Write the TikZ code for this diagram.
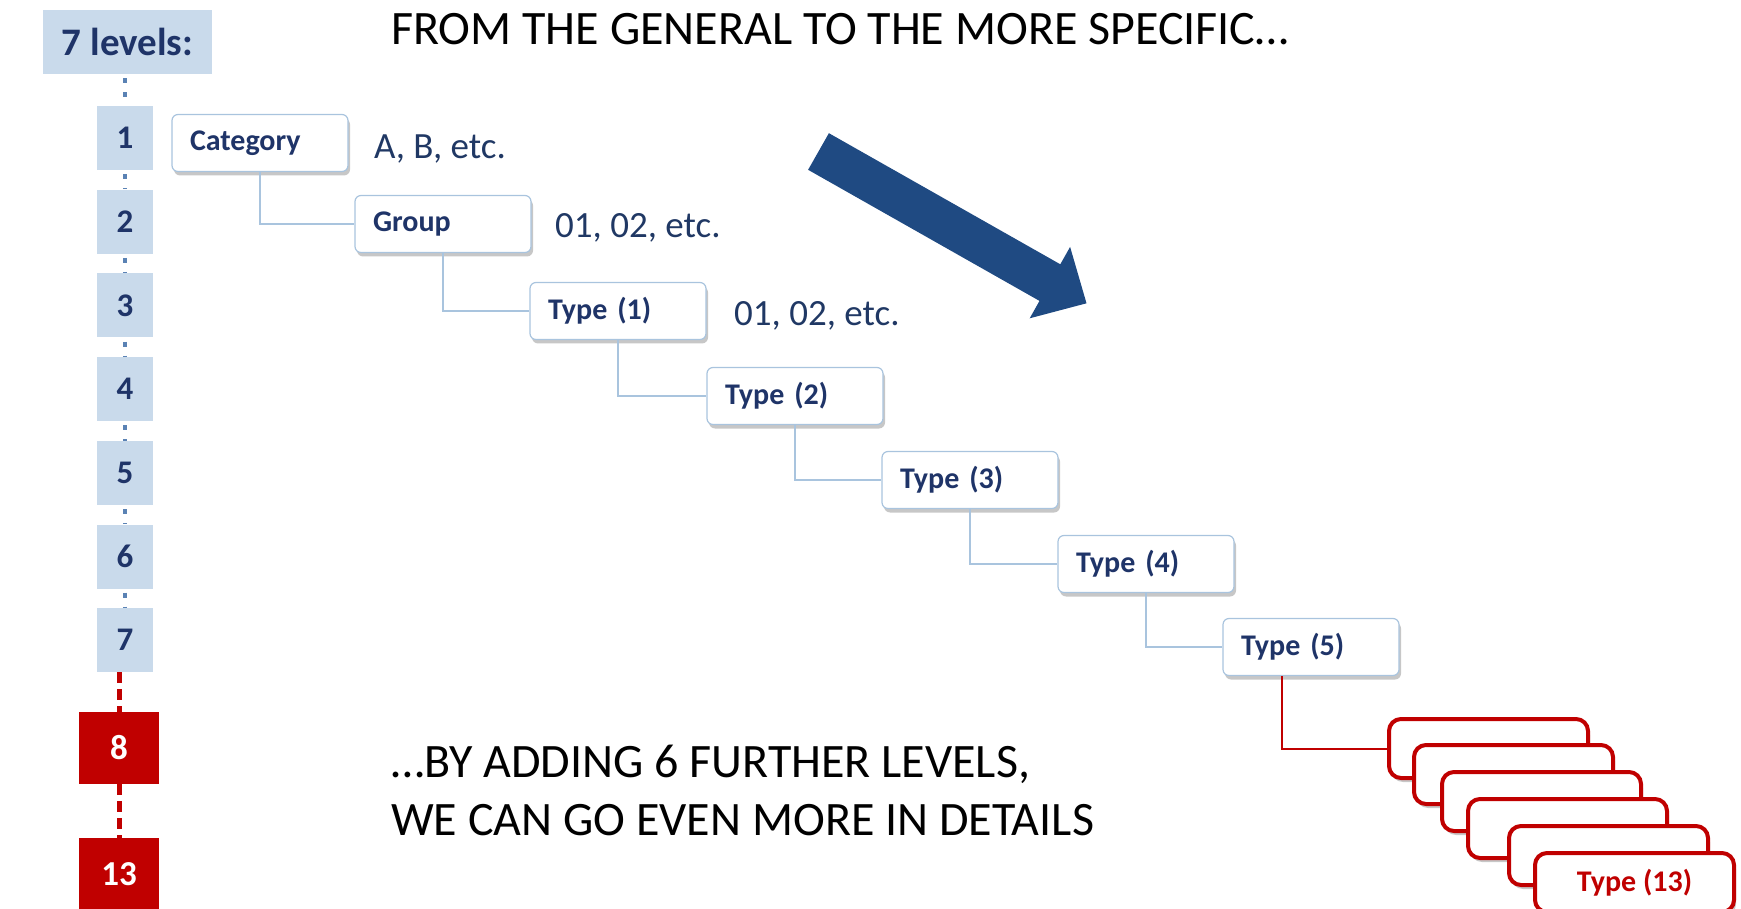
\documentclass[tikz,border=0pt]{standalone}
\usepackage{fontspec}
\setmainfont{Carlito}
\usetikzlibrary{shadows}

\definecolor{navy}{HTML}{1F3468}
\definecolor{lvlblue}{HTML}{C9DAEB}
\definecolor{edgeblue}{HTML}{A9C4DE}
\definecolor{dotblue}{HTML}{5A82B4}
\definecolor{arrowblue}{HTML}{1F4A82}
\definecolor{darkred}{HTML}{C00000}
\definecolor{tagblue}{HTML}{203864}

\tikzset{
  headbox/.style={fill=lvlblue, minimum width=169pt, minimum height=64pt, inner sep=0pt,
    text=navy, font=\bfseries\fontsize{39}{39}\selectfont},
  numbox/.style={fill=lvlblue, minimum width=56pt, minimum height=64pt, inner sep=0pt,
    text=navy, font=\bfseries\fontsize{33}{33}\selectfont},
  redbox/.style={fill=darkred, minimum width=80pt, minimum height=72pt, inner sep=0pt,
    text=white, font=\bfseries\fontsize{35}{35}\selectfont},
  typebox/.style={draw=edgeblue, line width=1.2pt, fill=white, rounded corners=6pt,
    minimum width=176pt, minimum height=57pt, text width=140pt, inner xsep=18pt, align=left,
    text=navy, font=\bfseries\fontsize{30}{30}\selectfont,
    drop shadow={shadow xshift=2pt, shadow yshift=-4pt, fill=black!40, opacity=.55}},
  stackbox/.style={draw=darkred, line width=4pt, fill=white, rounded corners=12pt,
    minimum width=199pt, minimum height=59pt, inner sep=0pt,
    text=darkred, font=\bfseries\fontsize{30}{30}\selectfont,
    drop shadow={shadow xshift=2pt, shadow yshift=-4pt, fill=black!40, opacity=.55}},
  tag/.style={anchor=base west, inner sep=0pt, text=tagblue, font=\fontsize{37}{37}\selectfont},
  slogan/.style={anchor=base west, inner sep=0pt, font=\fontsize{48}{48}\selectfont},
  tree/.style={draw=edgeblue, line width=2.4pt},
  redtree/.style={draw=darkred, line width=2pt},
  dotline/.style={draw=dotblue, line width=4.5pt, dash pattern=on 5pt off 9pt, dash phase=-4pt},
  redline/.style={draw=darkred, line width=5pt, dash pattern=on 11pt off 6pt}
}

\begin{document}
\begin{tikzpicture}[x=1pt, y=-1pt]
    \useasboundingbox (0,0) rectangle (1741,909);
    % Texts
    \node[slogan] (title) at (391,45) {FROM THE GENERAL TO THE MORE SPECIFIC…};
    \node[slogan] (more1) at (391,777) {…BY ADDING 6 FURTHER LEVELS,};
    \node[slogan] (more2) at (391,835) {WE CAN GO EVEN MORE IN DETAILS};
    % Level column
    \node[headbox] (head) at (127.5,42) {7 levels:};
    \node[numbox] (n1) at (125,138) {1};
    \node[numbox] (n2) at (125,221.7) {2};
    \node[numbox] (n3) at (125,305.4) {3};
    \node[numbox] (n4) at (125,389.1) {4};
    \node[numbox] (n5) at (125,472.8) {5};
    \node[numbox] (n6) at (125,556.5) {6};
    \node[numbox] (n7) at (125,640.2) {7};
    \node[redbox] (n8) at (119,748) {8};
    \node[redbox] (n13) at (119,874) {13};
    \draw[dotline] (head.south -| n1.north) -- (n1.north);
    \draw[dotline] (n1) -- (n2);
    \draw[dotline] (n2) -- (n3);
    \draw[dotline] (n3) -- (n4);
    \draw[dotline] (n4) -- (n5);
    \draw[dotline] (n5) -- (n6);
    \draw[dotline] (n6) -- (n7);
    \draw[redline] (n8.north |- n7.south) -- (n8.north);
    \draw[redline] (n8.south) -- (n13.north);
    % Tree of the 7 levels
    \node[typebox] (cat) at (260,143) {Category};
    \node[typebox] (grp) at (443,224) {Group};
    \node[typebox] (ty1) at (618,311) {Type (1)};
    \node[typebox] (ty2) at (795,396) {Type (2)};
    \node[typebox] (ty3) at (970,480) {Type (3)};
    \node[typebox] (ty4) at (1146,564) {Type (4)};
    \node[typebox] (ty5) at (1311,647) {Type (5)};
    \draw[tree] (cat.south) |- (grp.west);
    \draw[tree] (grp.south) |- (ty1.west);
    \draw[tree] (ty1.south) |- (ty2.west);
    \draw[tree] (ty2.south) |- (ty3.west);
    \draw[tree] (ty3.south) |- (ty4.west);
    \draw[tree] (ty4.south) |- (ty5.west);
    \node[tag] (tagcat) at (374,159) {A, B, etc.};
    \node[tag] (taggrp) at (555,238) {01, 02, etc.};
    \node[tag] (tagty1) at (734,326) {01, 02, etc.};
    % Six further levels
    \node[stackbox] (st1) at (1488.5,748.5) {};
    \node[stackbox] (st2) at (1513.5,774.5) {};
    \node[stackbox] (st3) at (1541.5,801.5) {};
    \node[stackbox] (st4) at (1567.5,828.5) {};
    \node[stackbox] (st5) at (1608.5,855.5) {};
    \node[stackbox] (st6) at (1634.5,882.5) {Type (13)};
    \draw[redtree] ([xshift=-29pt]ty5.south) |- (st1.west);
    % Big arrow
    \fill[arrowblue] (808.1,169.8) -- (828.9,133.2) -- (1060.3,264.3) -- (1070.1,246.9)
        -- (1086.5,303.3) -- (1029.7,318.3) -- (1039.5,300.9) -- cycle;
\end{tikzpicture}
\end{document}
